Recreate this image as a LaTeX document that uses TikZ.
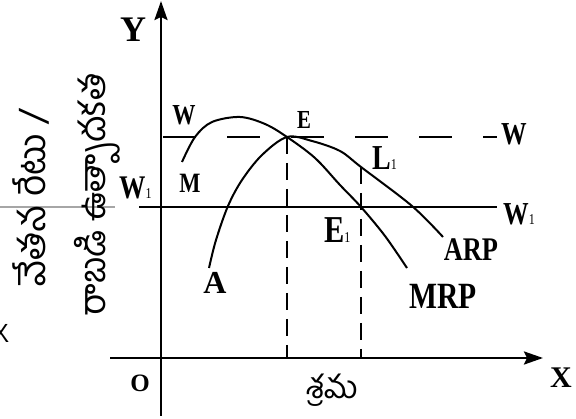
\documentclass[tikz,border=0pt]{standalone}
\usepackage{fontspec}
\setmainfont{Liberation Serif}
\newfontfamily\condfont[FakeStretch=0.8]{Liberation Serif}
\newfontfamily\telugufont[Script=Telugu]{Hind Guntur}
\usetikzlibrary{arrows.meta}
\newcommand\lsub[1]{{\mdseries\fontsize{15}{15}\selectfont #1}}
\tikzset{
  axis/.style={line width=2.6pt, -{Stealth[length=19pt,width=13pt,inset=3pt]}},
  curve/.style={line width=2pt},
  level/.style={line width=2.3pt},
  guide/.style={line width=1.8pt, dash pattern=on 17pt off 9pt},
  lab/.style={font=\condfont\bfseries\fontsize{#1}{#1}\selectfont, inner sep=0pt},
  labn/.style={font=\bfseries\fontsize{#1}{#1}\selectfont, inner sep=0pt},
  tel/.style={font=\telugufont\fontsize{#1}{#1}\selectfont, inner sep=0pt, rotate=90}
}
\begin{document}
\begin{tikzpicture}[x=1pt,y=-1pt]
\useasboundingbox (0,0) rectangle (576,419);
% key coordinates
\coordinate (O) at (161,358);
\coordinate (Ybot) at (161,416);
\coordinate (Ytop) at (161,1);
\coordinate (Xleft) at (110,358);
\coordinate (Xright) at (543,358);
\coordinate (E) at (287,137);
\coordinate (Ebase) at (287,358);
\coordinate (L1) at (361,167);
\coordinate (E1) at (361,207);
\coordinate (L1base) at (361,358);
\coordinate (Wl) at (163,137);
\coordinate (Wr) at (497,137);
\coordinate (Wal) at (139,207);
\coordinate (War) at (497,207);
\coordinate (Gl) at (0,207);
\coordinate (Gr) at (115,207);
% axes
\draw[axis] (Ybot) -- (Ytop);
\draw[axis] (Xleft) -- (Xright);
% wage lines
\draw[level, dash pattern=on 33pt off 31pt] (Wl) -- (Wr);
\draw[level] (Wal) -- (War);
\draw[gray!70, line width=1.6pt] (Gl) -- (Gr);
% guides
\draw[guide] (E) -- (Ebase);
\draw[guide] (L1) -- (L1base);
% MRP
\draw[curve] plot[smooth, tension=0.55] coordinates {(182,162) (195,137) (212,122) (240,117) (265,124) (287,137) (315,158) (340,185) (361,207) (385,236) (407,268)};
% ARP
\draw[curve] plot[smooth, tension=0.55] coordinates {(209,268) (216,240) (228,206) (242,180) (262,155) (287,137) (312,141) (340,151) (361,167) (412,206) (443,237)};
% labels
\node[labn=36] (ly) at (133,30) {Y};
\node[labn=30] (lx) at (561,378) {X};
\node[labn=25] (lo) at (140,383) {O};
\node[lab=29] (lw) at (184,115) {W};
\node[lab=26] (le) at (304,120) {E};
\node[lab=28] (lm) at (190,183) {M};
\node[lab=33, anchor=west] (lw1) at (119,188) {W\lsub{1}};
\node[lab=32] (lwr) at (514,134) {W};
\node[lab=32, anchor=west] (lw1r) at (503,214) {W\lsub{1}};
\node[lab=35, anchor=west] (ll1) at (372,158) {L\lsub{1}};
\node[lab=38, anchor=west] (le1) at (324,230) {E\lsub{1}};
\node[labn=32] (la) at (215,283) {A};
\node[lab=33] (larp) at (471,250) {ARP};
\node[lab=37] (lmrp) at (443,296) {MRP};
\node[font=\telugufont\fontsize{32}{32}\selectfont, inner sep=0pt] (lab) at (332,390) {శ్రమ};
\node[tel=37] (ty1) at (31,198) {వేతన రేటు /};
\node[tel=36] (ty2) at (97,195) {రాబడి ఉత్పాదకత};
\node[font=\sffamily\fontsize{26}{26}\selectfont, inner sep=0pt] (lxx) at (1,333) {X};
\end{tikzpicture}
\end{document}
